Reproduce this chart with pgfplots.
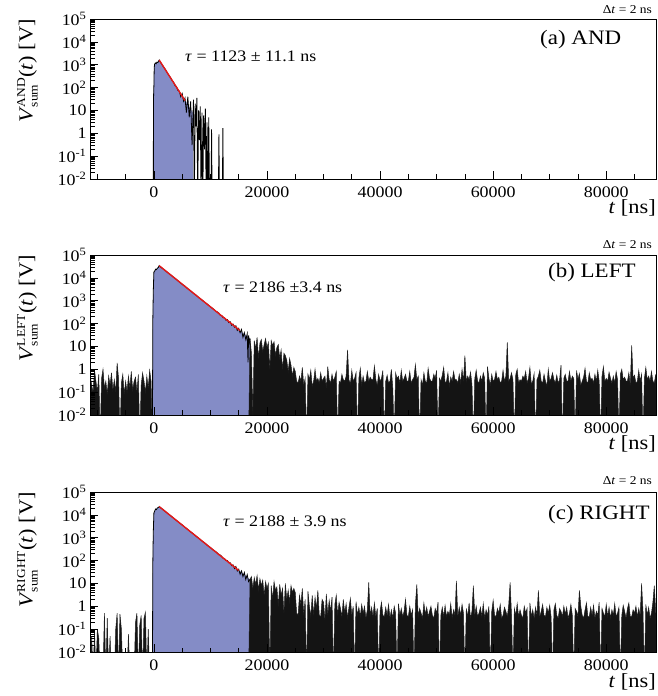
\documentclass[border=0pt]{standalone}
\usepackage{fontspec}
\setmainfont{Liberation Serif}[FakeStretch=1.12]
\usepackage{pgfplots}
\pgfplotsset{compat=1.18}
\definecolor{histfill}{RGB}{132,140,198}
\definecolor{fitred}{RGB}{228,24,24}
\pgfplotsset{
    scale only axis, width=566pt, height=160pt,
    xmin=-11300, xmax=88800, ymin=1e-2, ymax=1e5,
    axis on top, axis line style={line width=0.9pt},
    xtick={0,20000,40000,60000,80000},
    xticklabels={0,20000,40000,60000,80000},
    minor xtick={-10000,-5000,5000,10000,15000,25000,30000,35000,45000,50000,55000,65000,70000,75000,85000},
    ytick={1e-2,1e-1,1,10,100,1000,10000,100000},
    yticklabels={10\textsuperscript{-2},10\textsuperscript{-1},1,10,10\textsuperscript{2},10\textsuperscript{3},10\textsuperscript{4},10\textsuperscript{5}},
    minor ytick={0.02,0.03,0.04,0.05,0.06,0.07,0.08,0.09,0.2,0.3,0.4,0.5,0.6,0.7,0.8,0.9,2,3,4,5,6,7,8,9,20,30,40,50,60,70,80,90,200,300,400,500,600,700,800,900,2000,3000,4000,5000,6000,7000,8000,9000,20000,30000,40000,50000,60000,70000,80000,90000},
    tick pos=left, tick align=inside,
    major tick length=8pt, minor tick length=4.5pt,
    tick style={black, line width=0.6pt},
    ticklabel style={font=\fontsize{16}{16}\selectfont},
    xticklabel style={yshift=-4.5pt},
    scaled x ticks=false,
    noise/.style={black!88, line width=0.5pt, fill=black!92, mark=none},
    sig/.style={black, line width=0.8pt, mark=none},
    fitline/.style={fitred, line width=1.4pt, mark=none},
}
\newcommand{\ylab}[1]{\textit{V}$^{\mbox{\fontsize{12}{12}\selectfont #1}}_{\mbox{\fontsize{12}{12}\selectfont sum}}$(\textit{t}) [V]}
\begin{document}
\begin{tikzpicture}
\useasboundingbox (0,0) rectangle (658pt,696pt);
% ---------------- (a) AND ----------------
\begin{axis}[ymode=log, anchor=south west, at={(90pt,517pt)}, name=pa]
\addplot[draw=none, fill=histfill] coordinates {(-100,1e-3) (-80,20) (-40,60) (0,120) (50,600) (100,1000) (250,1200) (400,1100) (550,1300) (700,1250) (940,1600) (2000,640) (3000,260) (4000,110) (5000,45) (6000,18) (6900,8) (6950,1e-3)};
\addplot[sig] coordinates {(-100,1e-3) (-80,20) (-40,60) (0,120) (50,600) (100,1000) (250,1200) (400,1100) (550,1300) (700,1250) (940,1600) (1000,1500) (1500,950) (2000,640) (2500,390) (3000,260) (3250,200) (3500,170) (3750,120) (4000,110) (4250,75) (4500,70) (4750,40) (5000,55) (5250,25) (5500,35) (5750,8) (6000,40) (6250,5) (6500,25) (6750,0.3) (7000,30) (7150,1e-3) (7300,20) (7450,2) (7600,35) (7750,1e-3) (7900,10) (8050,0.5) (8200,15) (8350,1e-3) (8500,8) (8650,1e-3) (8800,6) (8950,0.2) (9100,12) (9250,1e-3) (9400,3) (9550,1e-3) (9700,5) (9850,1e-3) (10100,1e-3) (10200,1.5) (10300,1e-3) (11400,1e-3) (11500,0.9) (11600,1e-3) (12100,1e-3) (12200,1.7) (12300,1e-3)};
\addplot[fitline] coordinates {(940,1600) (5500,27)};
\end{axis}
\node[anchor=base west, inner sep=0, font=\fontsize{20.5}{20}\selectfont] at ([xshift=450pt,yshift=-26pt]pa.north west) {(a) AND};
\node[anchor=base west, inner sep=0, font=\fontsize{16}{16}\selectfont] at ([xshift=95pt,yshift=-42.7pt]pa.north west) {\textit{τ} = 1123 ± 11.1 ns};
\node[anchor=base east, inner sep=0, font=\fontsize{12}{12}\selectfont] at ([xshift=-4pt,yshift=5.7pt]pa.north east) {Δ\textit{t} = 2 ns};
\node[anchor=base east, inner sep=0, font=\fontsize{20}{20}\selectfont] at ([yshift=-35pt]pa.south east) {\textit{t} [ns]};
\node[rotate=90, anchor=south east, inner sep=0, font=\fontsize{20}{20}\selectfont] at ([xshift=-52pt]pa.north west) {\ylab{AND}};
% ---------------- (b) LEFT ----------------
\begin{axis}[ymode=log, anchor=south west, at={(90pt,281pt)}, name=pb]
\addplot[draw=none, fill=histfill] coordinates {(-250,1e-3) (-200,100) (-150,600) (-100,3000) (0,18000) (150,20000) (300,24000) (450,23000) (600,26000) (800,29000) (940,34000) (2000,21000) (4000,8500) (6000,3350) (8000,1330) (10000,540) (12000,220) (13000,140) (14000,90) (15000,55) (16000,35) (17000,22) (17100,1e-3)};
\addplot[noise] table[row sep=\\, header=false, x expr=\coordindex*250-11500, y index=0] {
1e-3\\0.5\\0.2\\0.1\\0.9\\0.3\\0.1\\0.6\\1e-3\\0.4\\1\\0.15\\0.3\\0.08\\0.5\\0.2\\
0.7\\0.12\\0.35\\0.1\\1.9\\0.4\\1e-3\\0.25\\0.6\\0.08\\0.3\\0.1\\0.5\\0.15\\0.8\\
0.12\\0.3\\0.45\\0.1\\0.6\\1e-3\\0.2\\0.7\\0.3\\0.1\\0.5\\0.15\\0.9\\0.3\\1e-3\\
};
\addplot[sig] coordinates {(-250,1e-3) (-200,100) (-150,600) (-100,3000) (0,18000) (150,20000) (300,24000) (450,23000) (600,26000) (800,29000) (940,34000) (1000,32000) (1500,26000) (2000,21000) (2500,16500) (3000,13400) (3500,10500) (4000,8500) (4500,6600) (5000,5300) (5500,4300) (6000,3350) (6500,2700) (7000,2100) (7500,1720) (8000,1330) (8500,1090) (9000,850) (9500,690) (10000,540) (10500,440) (11000,340) (11250,320) (11500,285) (11750,230) (12000,225) (12250,180) (12500,180) (12750,140) (13000,150) (13250,110) (13500,120) (13750,85) (14000,95) (14250,70) (14500,80) (14750,50) (15000,62) (15250,40) (15500,55) (15750,25) (16000,40) (16250,20) (16500,35) (16650,2) (16750,30) (16900,15) (17000,22)};
\addplot[noise] table[row sep=\\, header=false, x expr=\coordindex*250+16750, y index=0] {
1e-3\\22\\5\\0.01\\18\\8\\25\\3\\14\\20\\6\\12\\22\\9\\15\\1\\18\\11\\16\\4\\9\\12\\3\\7\\1\\5\\4\\2.5\\0.8\\3\\1.5\\0.5\\1.2\\
0.8\\0.3\\0.25\\0.5\\0.3\\1.2\\0.2\\0.4\\1e-3\\0.6\\0.35\\0.9\\0.18\\0.3\\1\\0.3\\
0.4\\0.25\\0.7\\0.3\\0.4\\0.5\\0.15\\1.3\\0.35\\0.25\\0.6\\0.3\\0.45\\0.8\\1e-3\\0.3\\
0.25\\0.6\\0.35\\0.3\\0.5\\7\\0.35\\0.22\\0.9\\0.3\\0.4\\0.7\\1e-3\\0.4\\1.1\\0.2\\
0.5\\0.25\\0.3\\0.8\\0.3\\0.45\\0.35\\0.35\\1.4\\0.35\\0.2\\0.6\\0.3\\0.4\\0.9\\1e-3\\
0.3\\0.55\\0.25\\0.3\\1\\0.15\\1e-3\\0.7\\0.4\\0.5\\0.25\\0.9\\0.3\\0.4\\0.6\\0.3\\
0.3\\0.8\\0.25\\0.35\\0.45\\1.6\\0.35\\0.5\\1e-3\\0.35\\0.2\\0.7\\0.3\\0.25\\1.1\\0.4\\
0.3\\0.3\\0.6\\0.4\\0.9\\1e-3\\0.4\\0.3\\0.55\\1.2\\0.25\\0.3\\0.7\\0.18\\0.45\\0.3\\
0.8\\0.35\\0.35\\0.25\\0.6\\0.25\\1\\0.3\\4\\0.3\\0.5\\0.35\\0.75\\0.22\\1e-3\\0.4\\
0.9\\0.3\\0.25\\0.5\\0.3\\0.7\\0.4\\1e-3\\1.3\\0.4\\0.2\\0.6\\0.3\\0.35\\0.8\\0.35\\
0.45\\0.25\\0.3\\0.9\\0.3\\0.5\\15\\0.3\\0.4\\0.7\\0.35\\1e-3\\0.6\\1\\0.25\\0.35\\
0.3\\0.5\\0.4\\0.8\\0.25\\0.4\\1.2\\0.22\\0.3\\0.65\\1e-3\\0.35\\0.5\\0.9\\0.3\\0.25\\
0.6\\0.3\\0.18\\1\\0.3\\0.4\\0.7\\0.35\\0.25\\0.55\\0.25\\0.35\\1.5\\1e-3\\0.4\\0.6\\
0.3\\0.3\\0.8\\0.3\\0.5\\0.4\\1e-3\\0.9\\0.35\\0.65\\0.2\\0.3\\0.45\\1.1\\0.3\\0.25\\
0.7\\0.35\\0.4\\0.25\\0.6\\0.3\\0.9\\0.3\\1e-3\\0.5\\1.3\\0.3\\0.4\\0.3\\0.75\\0.4\\
0.25\\0.5\\0.25\\0.8\\0.35\\1e-3\\0.6\\1\\0.35\\0.45\\0.3\\0.3\\0.7\\0.2\\11\\0.4\\
0.55\\0.25\\0.3\\0.9\\0.3\\0.6\\1e-3\\0.4\\1.2\\0.35\\0.5\\0.3\\0.8\\0.3\\0.25\\0.6\\
1e-3\\
};
\addplot[fitline] coordinates {(940,34000) (15200,50)};
\end{axis}
\node[anchor=base west, inner sep=0, font=\fontsize{20.5}{20}\selectfont] at ([xshift=458pt,yshift=-23pt]pb.north west) {(b) LEFT};
\node[anchor=base west, inner sep=0, font=\fontsize{16}{16}\selectfont] at ([xshift=133pt,yshift=-37.3pt]pb.north west) {\textit{τ} = 2186 ±3.4 ns};
\node[anchor=base east, inner sep=0, font=\fontsize{12}{12}\selectfont] at ([xshift=-4pt,yshift=6pt]pb.north east) {Δ\textit{t} = 2 ns};
\node[anchor=base east, inner sep=0, font=\fontsize{20}{20}\selectfont] at ([yshift=-35pt]pb.south east) {\textit{t} [ns]};
\node[rotate=90, anchor=south east, inner sep=0, font=\fontsize{20}{20}\selectfont] at ([xshift=-52pt]pb.north west) {\ylab{LEFT}};
% ---------------- (c) RIGHT ----------------
\begin{axis}[ymode=log, anchor=south west, at={(90pt,44pt)}, name=pc]
\addplot[draw=none, fill=histfill] coordinates {(-250,1e-3) (-200,50) (-150,400) (-100,2000) (0,12000) (150,15000) (300,18000) (450,17000) (600,20000) (800,21000) (940,23000) (2000,14200) (4000,5700) (6000,2300) (8000,930) (10000,370) (12000,150) (13000,95) (14000,60) (15000,38) (16000,25) (17000,15) (17260,12) (17270,1e-3)};
\addplot[noise] table[row sep=\\, header=false, x expr=\coordindex*250-11250, y index=0] {
1e-3\\0.05\\1e-3\\0.08\\1e-3\\0.1\\0.04\\1e-3\\1e-3\\1e-3\\0.5\\1e-3\\0.3\\1e-3\\0.05\\
1e-3\\1e-3\\1e-3\\0.1\\0.5\\1e-3\\0.45\\0.1\\1e-3\\1e-3\\1e-3\\1e-3\\0.06\\1e-3\\1e-3\\
1e-3\\1e-3\\0.2\\0.5\\1e-3\\0.15\\0.4\\1e-3\\0.3\\0.55\\1e-3\\0.1\\1e-3\\1e-3\\1e-3\\
};
\addplot[sig] coordinates {(-250,1e-3) (-200,50) (-150,400) (-100,2000) (0,12000) (150,15000) (300,18000) (450,17000) (600,20000) (800,21000) (940,23000) (1000,22000) (1500,18000) (2000,14200) (2500,11200) (3000,9100) (3500,7100) (4000,5700) (4500,4500) (5000,3650) (5500,2850) (6000,2300) (6500,1800) (7000,1460) (7500,1140) (8000,930) (8500,720) (9000,590) (9500,455) (10000,370) (10500,290) (11000,240) (11500,180) (11750,175) (12000,150) (12250,125) (12500,120) (12750,100) (13000,100) (13250,80) (13500,80) (13750,60) (14000,65) (14250,45) (14500,55) (14750,35) (15000,42) (15250,25) (15500,35) (15750,20) (16000,30) (16250,15) (16500,24) (16750,12) (17000,15)};
\addplot[noise] table[row sep=\\, header=false, x expr=\coordindex*250+16750, y index=0] {
1e-3\\15\\20\\6\\18\\9\\22\\5\\16\\8\\14\\3\\12\\6\\10\\1e-3\\8\\2\\12\\5\\7\\1\\9\\3\\6\\0.5\\10\\2\\5\\1.5\\8\\4\\6\\
4\\0.5\\0.4\\3\\1.2\\6\\0.4\\2\\1e-3\\4.5\\1\\0.35\\3\\0.4\\2.5\\0.8\\
5\\0.4\\0.35\\2\\1.5\\0.25\\3.5\\0.4\\1.8\\0.6\\2.5\\1e-3\\1.2\\3\\0.4\\1.5\\
0.8\\0.35\\2\\0.5\\1.3\\0.3\\0.9\\2.2\\0.4\\1\\1e-3\\1.6\\0.4\\0.9\\0.35\\1.2\\
0.5\\1\\0.3\\0.7\\11\\0.4\\0.9\\0.35\\1.4\\0.35\\0.8\\1e-3\\0.6\\1.5\\0.4\\0.35\\
0.9\\0.4\\1.2\\0.3\\0.7\\0.3\\1\\0.5\\1e-3\\1.3\\0.4\\0.8\\0.35\\0.6\\2\\0.4\\
0.35\\1\\0.4\\0.7\\1e-3\\1.2\\9\\0.35\\0.8\\0.5\\0.3\\1.4\\0.45\\0.9\\0.35\\0.6\\
1\\0.4\\0.3\\0.8\\0.5\\1.5\\1e-3\\0.4\\0.9\\0.35\\1.1\\0.35\\0.6\\0.4\\1.3\\0.3\\
0.7\\0.4\\13\\0.35\\0.9\\0.4\\1.2\\0.5\\1e-3\\0.8\\0.35\\1.4\\0.3\\0.6\\8\\0.4\\
1\\0.35\\0.5\\0.9\\0.35\\1.3\\0.3\\0.7\\0.4\\1\\1e-3\\0.6\\1.8\\0.4\\0.35\\0.8\\
0.5\\1.2\\0.3\\0.4\\0.9\\0.6\\0.35\\1.1\\11\\0.4\\1e-3\\0.8\\0.4\\1.3\\0.35\\0.7\\
0.4\\0.3\\1\\0.5\\0.8\\1e-3\\1.4\\0.35\\0.7\\0.3\\0.9\\0.4\\5\\0.35\\0.6\\1.2\\
0.4\\0.35\\0.9\\0.5\\1.1\\0.35\\1e-3\\0.7\\1.3\\0.4\\0.3\\0.8\\0.6\\0.35\\1\\0.45\\
0.9\\0.3\\0.5\\1.2\\0.4\\1e-3\\0.8\\0.6\\0.35\\5\\1\\0.4\\0.3\\0.7\\1.4\\0.35\\
0.35\\0.9\\0.4\\1.1\\0.3\\0.6\\0.4\\1.5\\1e-3\\0.8\\0.5\\0.35\\1.2\\0.35\\0.9\\0.3\\
0.7\\0.4\\1.3\\0.35\\0.5\\0.9\\1e-3\\0.4\\1.1\\0.6\\0.3\\0.8\\1.4\\0.35\\0.35\\0.7\\
0.5\\1\\0.35\\0.8\\0.4\\10\\0.6\\1e-3\\1.2\\0.4\\0.9\\0.3\\0.5\\1.5\\8\\0.6\\
1e-3\\
};
\addplot[fitline] coordinates {(940,23000) (15000,37)};
\end{axis}
\node[anchor=base west, inner sep=0, font=\fontsize{20.5}{20}\selectfont] at ([xshift=458pt,yshift=-28pt]pc.north west) {(c) RIGHT};
\node[anchor=base west, inner sep=0, font=\fontsize{16}{16}\selectfont] at ([xshift=133pt,yshift=-34.7pt]pc.north west) {\textit{τ} = 2188 ± 3.9 ns};
\node[anchor=base east, inner sep=0, font=\fontsize{12}{12}\selectfont] at ([xshift=-4pt,yshift=7pt]pc.north east) {Δ\textit{t} = 2 ns};
\node[anchor=base east, inner sep=0, font=\fontsize{20}{20}\selectfont] at ([yshift=-35pt]pc.south east) {\textit{t} [ns]};
\node[rotate=90, anchor=south east, inner sep=0, font=\fontsize{20}{20}\selectfont] at ([xshift=-52pt]pc.north west) {\ylab{RIGHT}};
\end{tikzpicture}
\end{document}
